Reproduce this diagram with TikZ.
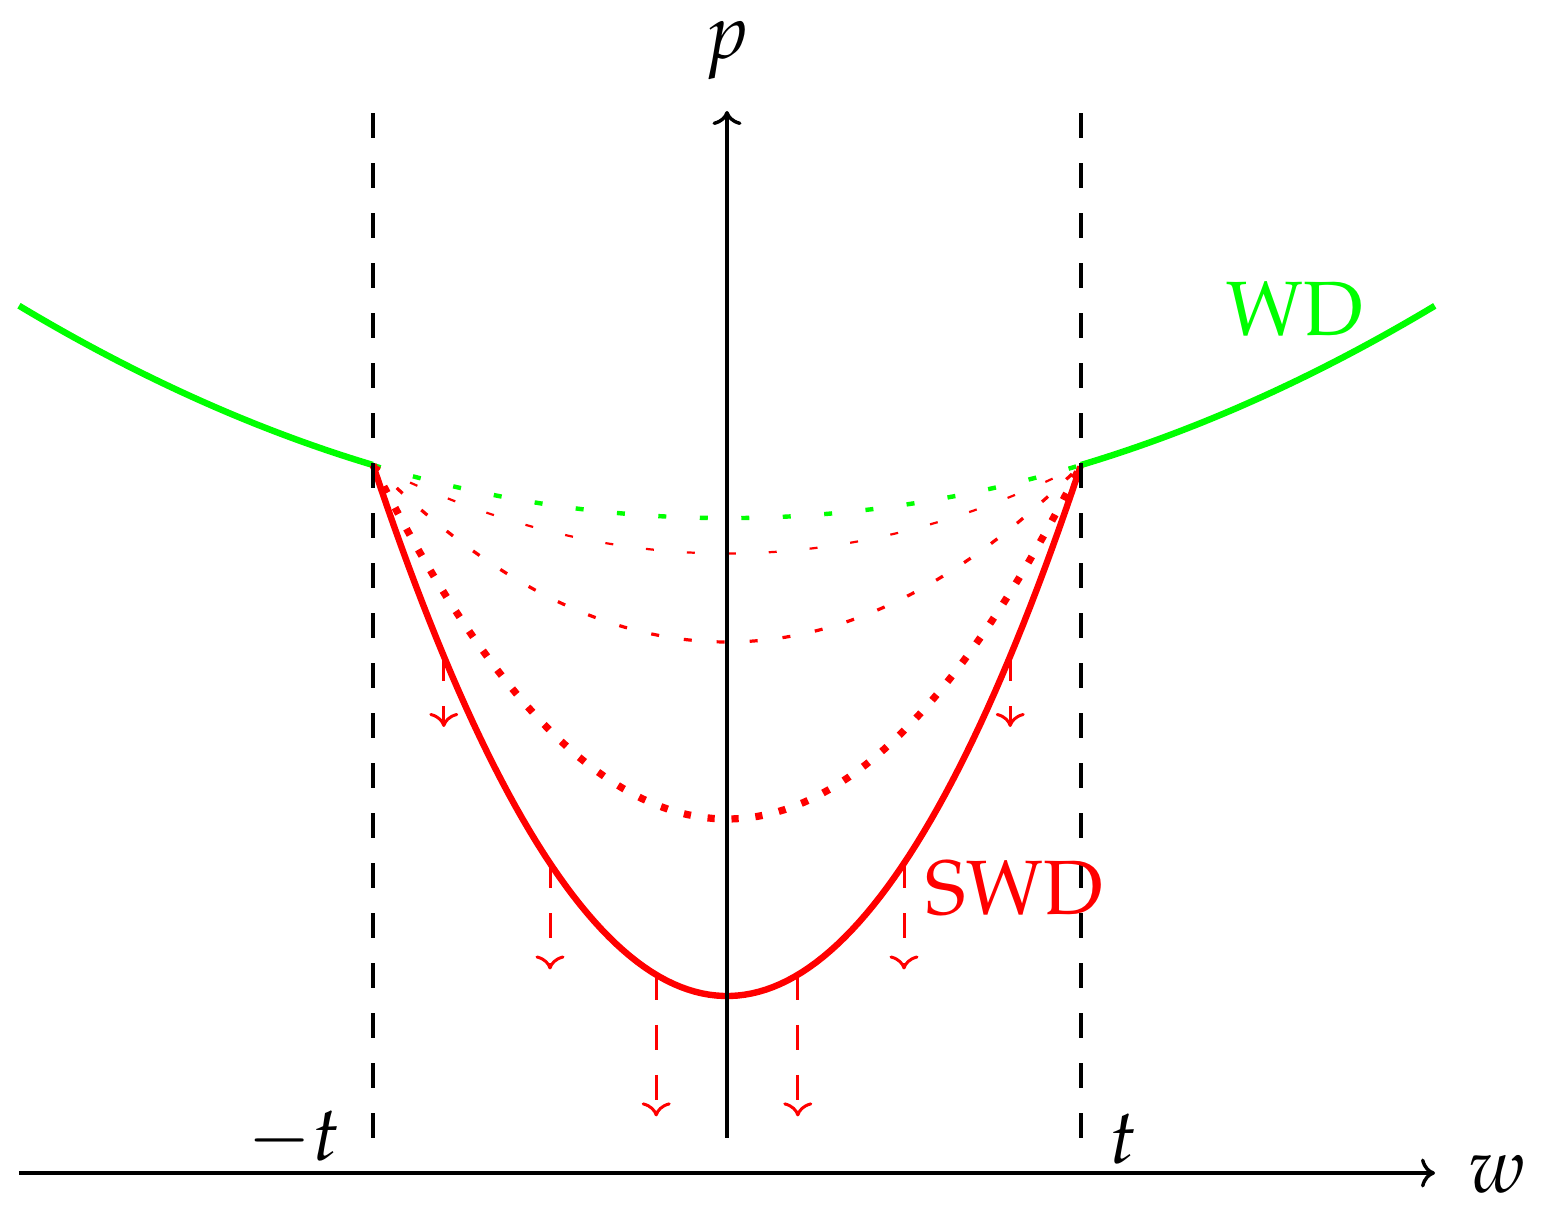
\documentclass[tikz,border=0pt]{standalone}
\usepackage{mathpazo}
\usetikzlibrary{arrows.meta}
\begin{document}
\begin{tikzpicture}[x=177pt,y=177pt,
  tipsty/.style={-{Computer Modern Rightarrow[length=7pt,width=14.5pt]}},
  axis/.style={line width=1.7pt,tipsty},
  guide/.style={line width=1.7pt,dash pattern=on 12.5pt off 12.5pt},
  redarrow/.style={red,line width=1.5pt,dash pattern=on 12.5pt off 12.5pt,tipsty},
  lbl/.style={inner sep=0pt,anchor=base,font=\fontsize{38.5}{46}\selectfont}]
\useasboundingbox (-2.0537,-0.1186) rectangle (2.3107,3.3136);
% curves
\draw[green,line width=3.2pt] plot[domain=-2:-1,samples=60] (\x,{1.85+0.15*\x*\x});
\draw[green,line width=3.2pt] plot[domain=1:2,samples=60] (\x,{1.85+0.15*\x*\x});
\draw[green,line width=2.2pt,dash pattern=on 4pt off 16.75pt] plot[domain=-1:1,samples=80] (\x,{1.85+0.15*\x*\x});
\draw[red,line width=1.1pt,dash pattern=on 4pt off 16.5pt] plot[domain=-1:1,samples=80] (\x,{1.75+0.25*\x*\x});
\draw[red,line width=1.6pt,dash pattern=on 4pt off 12.5pt] plot[domain=-1:1,samples=80] (\x,{1.5+0.5*\x*\x});
\draw[red,line width=3.6pt,dash pattern=on 3.6pt off 8.4pt] plot[domain=-1:1,samples=80] (\x,{1+\x*\x});
\draw[red,line width=3.2pt] plot[domain=-1:1,samples=100] (\x,{0.5+1.5*\x*\x});
% guides and axes
\coordinate (gl0) at (-1,0.1); \coordinate (gl1) at (-1,3.0);
\coordinate (gr0) at (1,0.1); \coordinate (gr1) at (1,3.0);
\draw[guide] (gl0) -- (gl1);
\draw[guide] (gr0) -- (gr1);
\coordinate (xs) at (-2,0); \coordinate (xe) at (2,0);
\coordinate (ys) at (0,0.1); \coordinate (ye) at (0,3.0);
\draw[axis] (xs) -- (xe);
\draw[axis] (ys) -- (ye);
% arrows
\foreach \w/\l/\n in {-0.8/0.2/a,-0.5/0.3/b,-0.2/0.4/c,0.2/0.4/d,0.5/0.3/e,0.8/0.2/f}{
  \coordinate (\n s) at (\w,{0.5+1.5*\w*\w});
  \coordinate (\n e) at (\w,{0.5+1.5*\w*\w-\l});
  \draw[redarrow] (\n s) -- (\n e);
}
% labels
\node[lbl] (lp) at (0,3.147) {$p$};
\node[lbl] (lw) at (2.175,-0.054) {$w$};
\node[lbl,anchor=base east] (lmt) at (-1.093,0.034) {$-t$};
\node[lbl] (lt) at (1.119,0.028) {$t$};
\node[lbl,text=green] (lwd) at (1.604,2.367) {$\mathrm{WD}$};
\node[lbl,text=red] (lswd) at (0.812,0.729) {$\mathrm{SWD}$};
\end{tikzpicture}
\end{document}
